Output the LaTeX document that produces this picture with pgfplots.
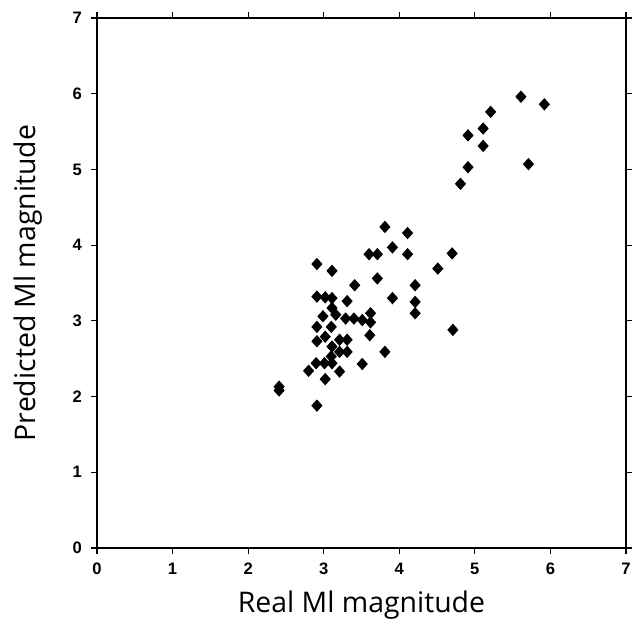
\documentclass[border=0pt]{standalone}
\usepackage{fontspec}
\usepackage{pgfplots}
\pgfplotsset{compat=1.18}
\newfontfamily\tickfont{Liberation Sans}
\newfontfamily\labfont{Open Sans}
\begin{document}
\begin{tikzpicture}
\begin{axis}[
  scale only axis,
  width=264.5pt, height=265pt,
  xmin=0, xmax=7, ymin=0, ymax=7,
  xtick={0,...,7}, ytick={0,...,7},
  minor tick num=0,
  tick align=outside,
  major tick length=3pt,
  tick style={black, line width=0.6pt},
  axis line style={line width=1pt},
  /pgf/number format/assume math mode=true,
  tick label style={font=\tickfont\bfseries\fontsize{8.3}{9}\selectfont},
  xticklabel style={yshift=-1pt},
  yticklabel style={xshift=-1pt},
  xlabel={Real Ml magnitude},
  ylabel={Predicted Ml magnitude},
  label style={font=\labfont\fontsize{14.2}{17}\selectfont},
  xlabel style={at={(axis description cs:0.5,-0.1075)}, anchor=center},
  ylabel style={at={(axis description cs:-0.130,0.5)}, anchor=center},
  clip=false,
]
\addplot[only marks, mark=diamond*, mark size=2.8pt, black, mark options={xscale=1.2}] coordinates {
(2.41,2.13) (2.41,2.08) (2.91,1.88) (3.02,2.23) (2.80,2.34) (3.21,2.33)
(2.90,2.44) (3.01,2.44) (3.11,2.44) (3.51,2.43) (3.10,2.53) (3.21,2.59)
(3.31,2.59) (3.81,2.59) (3.11,2.66) (2.91,2.73) (3.02,2.79) (3.21,2.75)
(3.31,2.75) (3.61,2.81) (2.91,2.92) (3.10,2.92) (3.62,2.98) (2.99,3.06)
(3.16,3.08) (3.29,3.03) (3.40,3.03) (3.51,3.01) (3.62,3.10) (3.11,3.17)
(2.91,3.32) (3.02,3.31) (3.11,3.30) (3.31,3.26) (3.91,3.30) (4.21,3.25)
(4.21,3.10) (4.21,3.47) (3.41,3.47) (3.71,3.56) (2.91,3.75) (3.11,3.66)
(4.51,3.69) (3.60,3.88) (3.71,3.88) (4.11,3.88) (4.70,3.89) (3.91,3.97)
(3.81,4.24) (4.11,4.16) (4.71,2.88) (4.81,4.81) (4.91,5.03) (4.91,5.45)
(5.11,5.31) (5.11,5.54) (5.21,5.76) (5.61,5.96) (5.92,5.86) (5.71,5.07)
};
\coordinate (bl) at (axis cs:-1.284,-1.004);
\coordinate (tr) at (axis cs:7.080,7.238);
\end{axis}
\pgfresetboundingbox
\path[use as bounding box] (bl) rectangle (tr);
\end{tikzpicture}
\end{document}
